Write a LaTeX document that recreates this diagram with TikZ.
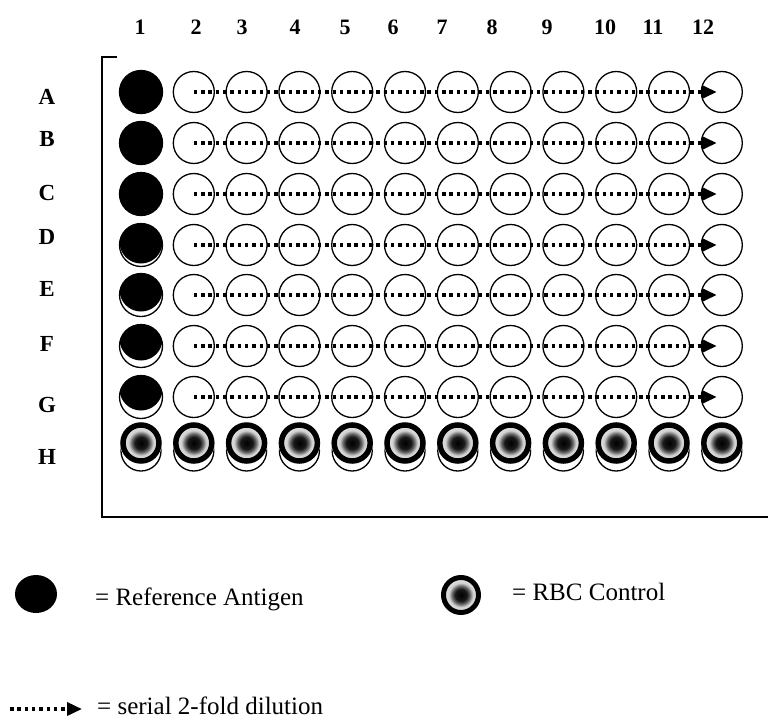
\documentclass[tikz,border=0pt]{standalone}
\usepackage{fontspec}
\setmainfont{Liberation Serif}
\usetikzlibrary{arrows.meta}
\pgfdeclareradialshading{rbcshade}{\pgfpoint{0bp}{0bp}}{color(0bp)=(black); color(10bp)=(black!90); color(15bp)=(black!60); color(20bp)=(gray!38); color(25bp)=(gray!25); color(50bp)=(gray!25)}
\begin{document}
\begin{tikzpicture}[x=1pt,y=-1pt,
  well/.style={circle,draw,line width=1.3pt,minimum size=41pt,inner sep=0pt},
  dil/.style={line width=3.5pt,dash pattern=on 3.5pt off 3.8pt,-{Triangle[length=15pt,width=13pt]}},
  collab/.style={font=\fontsize{22}{22}\selectfont\bfseries,inner sep=0pt},
  rowlab/.style={font=\fontsize{23}{23}\selectfont\bfseries,inner sep=0pt},
  legtext/.style={font=\fontsize{25}{25}\selectfont,inner sep=0pt,anchor=base west},
  framepen/.style={line width=1.3pt}
]
\useasboundingbox (0,0) rectangle (768,720);
% frame
\draw[framepen] (117,57) -- (102,57) -- (102,517) -- (768,517);
% column labels
\foreach \c/\x in {1/140,2/196,3/242,4/295,5/345,6/393,7/442,8/492,9/547,10/605,11/653,12/703}
  \node[collab] (col\c) at (\x,27) {\c};
% row labels
\foreach \r/\y in {A/97,B/139,C/193,D/237,E/289,F/344,G/405,H/457}
  \node[rowlab] (row\r) at (47,\y) {\r};
% rows A-G
\foreach \r/\y/\s in {A/92/0,B/143/0,C/194/0,D/245/3,E/295/5,F/346/7,G/397/8}{
  \node[well,minimum size=43pt,
        path picture={\fill ([yshift=\s pt]path picture bounding box.center) circle (21.5pt);}]
        (w-\r-1) at (141,\y) {};
  \foreach \c in {2,...,12}
    \node[well] (w-\r-\c) at ({141+(\c-1)*52.8},\y) {};
  \draw[dil] (w-\r-2.center) -- ([xshift=-5pt]w-\r-12.center);
}
% row H : RBC controls
\foreach \c in {1,...,12}{
  \node[circle,minimum size=42pt,inner sep=0pt] (w-H-\c) at ({141+(\c-1)*52.8},443) {};
  \draw[line width=1.3pt,fill=white] ([yshift=-8pt]w-H-\c.center) circle (20pt);
  \fill[white] (w-H-\c.center) circle (21pt);
  \shade[shading=rbcshade] (w-H-\c.center) circle (15.5pt);
  \draw[line width=5.5pt] (w-H-\c.center) circle (18pt);
}
% legend
\coordinate (legA) at (36,594);
\fill (legA) ellipse [x radius=21pt, y radius=19pt];
\node[legtext] (legAtext) at (95,605) {= Reference Antigen};
\coordinate (legR) at (461,595);
\fill[white] (legR) circle (20pt);
\shade[shading=rbcshade] (legR) circle (15pt);
\draw[line width=5pt] (legR) circle (17.5pt);
\node[legtext] (legRtext) at (512,600) {= RBC Control};
\coordinate (arrS) at (10,709);
\coordinate (arrE) at (82,709);
\draw[dil] (arrS) -- (arrE);
\node[legtext] (legStext) at (97,714) {= serial 2-fold dilution};
\end{tikzpicture}
\end{document}
